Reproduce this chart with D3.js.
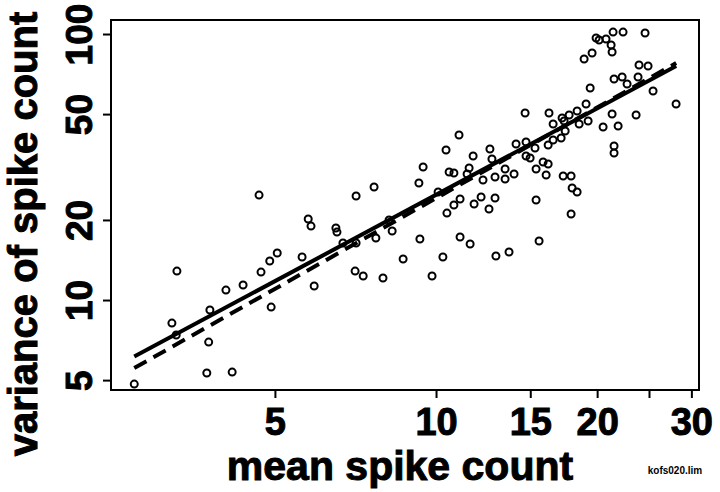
<!DOCTYPE html>
<html>
<head>
<meta charset="utf-8">
<script src="https://cdnjs.cloudflare.com/ajax/libs/d3/7.8.5/d3.min.js"></script>
<style>
	body { margin: 0; background: #fff; }
	svg { display: block; }
	.axis text { font-family: 'Liberation Sans', Arial, sans-serif; font-weight: bold; fill: #000; stroke: #000; stroke-width: 1px; }
	.axis line { stroke: #000; stroke-width: 2px; }
	.title { font-family: 'Liberation Sans', Arial, sans-serif; font-weight: bold; fill: #000; stroke: #000; stroke-width: 1px; }
</style>
</head>
<body>
<svg id="chart" width="720" height="492"></svg>
<script>
// mean spike count (x) and variance of spike count (y), one entry per cell
var meanCount = [
	2.73, 3.28, 3.21, 3.27, 3.78, 3.76, 3.73, 4.16, 4.05, 4.36,
	4.67, 4.71, 4.89, 5.05, 4.92, 5.62, 5.77, 5.84, 5.92, 6.50,
	6.53, 6.70, 7.09, 7.09, 7.06, 7.31, 7.66, 7.72, 7.96, 8.17,
	8.28, 8.68, 9.46, 9.29, 9.33, 9.83, 10.09, 10.30, 10.44, 10.48,
	10.58, 10.80, 10.80, 11.04, 11.09, 11.09, 11.43, 11.53, 11.58, 11.73,
	11.78, 12.14, 12.24, 12.56, 12.61, 12.72, 12.89, 12.89, 12.94, 13.46,
	13.46, 13.69, 13.99, 14.11, 14.67, 14.73, 14.73, 14.99, 15.31, 15.38,
	15.38, 15.58, 15.85, 16.20, 16.06, 16.20, 16.26, 16.55, 16.55, 17.13,
	17.20, 17.28, 17.43, 17.73, 17.88, 17.88, 17.96, 18.35, 18.35, 18.51,
	18.91, 19.07, 19.24, 19.41, 19.57, 19.91, 20.17, 20.52, 20.78, 21.24,
	21.33, 21.33, 21.42, 21.51, 21.51, 21.51, 21.89, 22.27, 22.36, 22.75,
	23.65, 23.85, 23.95, 24.58, 24.90, 25.44, 28.09, 17.35
];
var varCount = [
	4.83, 12.85, 8.19, 7.39, 9.17, 6.95, 5.32, 5.36, 10.90, 11.39,
	24.81, 12.74, 14.02, 15.02, 9.41, 14.51, 20.16, 18.97, 11.29, 18.65,
	18.01, 16.38, 24.60, 16.38, 12.85, 12.31, 26.60, 17.11, 12.10, 20.00,
	18.17, 14.26, 31.62, 27.54, 16.96, 12.31, 25.47, 14.51, 36.64, 21.23,
	30.28, 30.02, 22.76, 41.74, 23.98, 17.25, 29.77, 31.35, 16.24, 34.78,
	22.96, 24.39, 28.26, 21.98, 36.96, 33.90, 29.00, 24.18, 14.64, 31.08,
	28.50, 15.15, 29.77, 38.59, 50.47, 39.26, 34.78, 34.19, 37.28, 31.08,
	23.77, 16.67, 33.03, 32.46, 29.51, 38.26, 50.47, 45.89, 39.95, 40.64,
	48.32, 29.26, 43.20, 49.60, 29.26, 21.05, 26.37, 51.35, 25.47, 45.89,
	80.55, 54.55, 47.10, 62.66, 84.85, 96.60, 94.93, 44.72, 95.76, 90.90,
	85.58, 50.03, 101.7, 67.73, 37.93, 35.70, 45.11, 68.91, 101.7, 64.86,
	49.60, 68.91, 76.49, 100.9, 75.83, 61.06, 54.55, 47.10
];

// end points of the two fitted lines
var fitX = [2.73, 28.1];
var fitSolidY = [6.13, 75.8];
var fitDashY = [5.55, 77.8];

var xTickValues = [5, 10, 15, 20, 25, 30];
var xTickLabels = ['5', '10', '15', '20', '', '30'];
var yTickValues = [5, 10, 20, 50, 100];

var margin = {top: 20, right: 21, bottom: 102, left: 111},
	width = 720 - margin.left - margin.right,
	height = 492 - margin.top - margin.bottom;

var svg = d3.select('#chart');
var g = svg.append('g')
	.attr('transform', 'translate(' + margin.left + ',' + margin.top + ')');

// log scales on both axes
var x = d3.scaleLog().domain([2.47, 31.0]).range([0, width]);
var y = d3.scaleLog().domain([4.59, 112.9]).range([height, 0]);

// X axis
var xAxis = g.append('g')
	.attr('class', 'axis axis-x')
	.attr('transform', 'translate(0,' + height + ')')
	.call(d3.axisBottom(x).tickValues(xTickValues).tickSizeInner(8).tickSizeOuter(0).tickPadding(10)
		.tickFormat(function(d, i) { return xTickLabels[i]; }));
xAxis.select('.domain').remove();
xAxis.selectAll('text').style('font-size', '38px');

// Y axis, labels turned on their side
var yAxis = g.append('g')
	.attr('class', 'axis axis-y')
	.call(d3.axisLeft(y).tickValues(yTickValues).tickSizeInner(8).tickSizeOuter(0)
		.tickFormat(function(d) { return d; }));
yAxis.select('.domain').remove();
yAxis.selectAll('text')
	.style('font-size', '37px')
	.attr('text-anchor', 'middle')
	.attr('x', 0)
	.attr('dy', 0)
	.attr('transform', 'translate(-19,0) rotate(-90)');

// frame
g.append('rect')
	.attr('width', width)
	.attr('height', height)
	.attr('fill', 'none')
	.attr('stroke', '#000')
	.attr('stroke-width', 2);

// fitted lines
var fitLine = d3.line()
	.x(function(d) { return x(d[0]); })
	.y(function(d) { return y(d[1]); });

g.append('path')
	.attr('class', 'line-solid')
	.attr('d', fitLine(d3.zip(fitX, fitSolidY)))
	.attr('fill', 'none')
	.attr('stroke', '#000')
	.attr('stroke-width', 4);

g.append('path')
	.attr('class', 'line-dash')
	.attr('d', fitLine(d3.zip(fitX, fitDashY)))
	.attr('fill', 'none')
	.attr('stroke', '#000')
	.attr('stroke-width', 4)
	.attr('stroke-dasharray', '14,8');

// points
g.append('g')
	.attr('class', 'points')
	.selectAll('circle')
	.data(d3.zip(meanCount, varCount))
	.enter().append('circle')
	.attr('cx', function(d) { return x(d[0]); })
	.attr('cy', function(d) { return y(d[1]); })
	.attr('r', 3.5)
	.attr('fill', 'none')
	.attr('stroke', '#000')
	.attr('stroke-width', 2);

// axis titles
svg.append('text')
	.attr('class', 'title')
	.attr('x', 400)
	.attr('y', 480)
	.attr('text-anchor', 'middle')
	.style('font-size', '41px')
	.text('mean spike count');

svg.append('text')
	.attr('class', 'title')
	.attr('transform', 'translate(37,234) rotate(-90)')
	.attr('text-anchor', 'middle')
	.style('font-size', '40px')
	.text('variance of spike count');

svg.append('text')
	.attr('x', 675)
	.attr('y', 474)
	.attr('text-anchor', 'middle')
	.style('font-family', "'Liberation Sans', Arial, sans-serif")
	.style('font-weight', 'bold')
	.style('font-size', '10px')
	.text('kofs020.lim');
</script>
</body>
</html>
